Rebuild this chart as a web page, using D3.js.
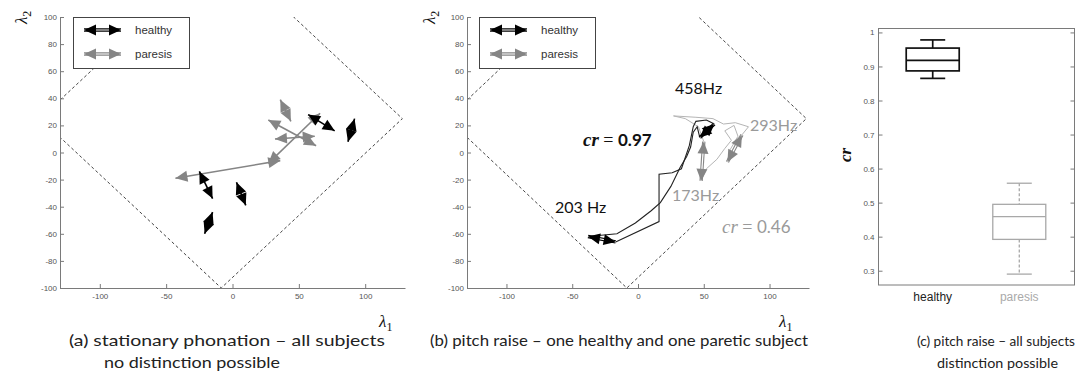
<!DOCTYPE html>
<html>
<head>
<meta charset="utf-8">
<script src="https://cdn.jsdelivr.net/npm/d3@7"></script>
<style>
  body { margin: 0; background: #fff; }
  svg { display: block; }
</style>
</head>
<body>
<div class="viz"></div>
<script>
// ---- data ----
const lamXTicks = [-100, -50, 0, 50, 100];
const lamYTicks = [-100, -80, -60, -40, -20, 0, 20, 40, 60, 80, 100];
// dashed boundary (rotated square) in lambda coords
const boundary = [[-145, 25], [-8.5, 150], [128, 25], [-8.5, -100], [-145, 25]];

// (a) one double arrow per subject: [x0, y0, x1, y1]
const healthyA = [[-25, -14, -15, -34], [3, -22, 10, -39], [-15, -44, -21, -60], [57, 28, 77, 16], [92, 25, 87, 8]];
const paresisA = [[-43, -19, 36, -6], [27, -8, 66, 29], [27, 24, 63, 5], [36, 39, 44, 23], [32, 10, 62, 12]];

// (b) first and last double arrow of the pitch raise, plus the tracks of both ends
const healthyStart = [-38, -62, -17, -66];
const healthyEnd = [47, 11, 58, 21];
const healthyTrack1 = [[-38, -62], [-16, -60], [-2, -52], [10, -43], [17, -37], [25, -25], [32, -11], [37, -3], [40, 4], [42, 15], [45, 19], [47, 11]];
const healthyTrack2 = [[-17, -66], [16, -51], [16, -16], [26, -15], [33, -12], [39, 5], [42, 19], [44, 23], [52, 24], [58, 21]];
const paresisStart = [48, -21, 50, 8];
const paresisEnd = [68, -7, 79, 13];
const paresisTrack1 = [[48, -21], [52, -12], [60, -5], [66, 3], [71, 9], [66, 16], [73, 20], [76, 12], [70, 2], [68, -7]];
const paresisTrack2 = [[50, 8], [46, 19], [36, 25], [27, 27], [44, 26], [57, 25], [65, 21], [74, 22], [84, 19], [79, 13]];

// (c) box plot of cr
const groups = ["healthy", "paresis"];
const crLow = [0.865, 0.29];
const crQ1 = [0.887, 0.392];
const crMed = [0.918, 0.459];
const crQ3 = [0.954, 0.495];
const crHigh = [0.978, 0.557];
const crTicks = [0.3, 0.4, 0.5, 0.6, 0.7, 0.8, 0.9, 1];

const black = "#000";
const gray = "#858585";
const light = "#b5b5b5";
const axisCol = "#7a7a7a";
const capFont = "Lato, 'Open Sans', sans-serif";

const svg = d3.select(".viz")
    .append("svg")
    .attr("width", 1083)
    .attr("height", 374);

const y = d3.scaleLinear().domain([-100, 100]).range([288, 17]);
const xa = d3.scaleLinear().domain([-130, 130]).range([60, 405]);
const xb = d3.scaleLinear().domain([-130, 130]).range([467, 809]);

function styleAxis(g) {
    g.select(".domain").attr("stroke", axisCol);
    g.selectAll(".tick line").attr("stroke", axisCol);
    g.selectAll(".tick text")
        .attr("fill", "#555")
        .attr("font-size", 8)
        .attr("font-family", "'Liberation Sans', Arial, sans-serif");
}

// arrow head with its tip at `tip`, pointing away from `from`
function head(g, tip, from, color) {
    const L = 12, W = 11;
    const dx = tip[0] - from[0], dy = tip[1] - from[1];
    const len = Math.hypot(dx, dy) || 1;
    const ux = dx / len, uy = dy / len;
    const bx = tip[0] - L * ux, by = tip[1] - L * uy;
    const px = -uy * W / 2, py = ux * W / 2;
    g.append("path")
        .attr("d", `M${tip[0]},${tip[1]}L${bx + px},${by + py}L${bx - px},${by - py}Z`)
        .attr("fill", color);
}

function doubleArrow(g, p0, p1, color, hollow) {
    g.append("line")
        .attr("x1", p0[0]).attr("y1", p0[1]).attr("x2", p1[0]).attr("y2", p1[1])
        .attr("stroke", color).attr("stroke-width", hollow ? 3.4 : 1.6);
    if (hollow) {
        g.append("line")
            .attr("x1", p0[0]).attr("y1", p0[1]).attr("x2", p1[0]).attr("y2", p1[1])
            .attr("stroke", "#fff").attr("stroke-width", 1.2);
    }
    head(g, p0, p1, color);
    head(g, p1, p0, color);
}

function legend(x0) {
    const g = svg.append("g");
    g.append("rect")
        .attr("x", x0 + 0.5).attr("y", 17.5).attr("width", 116).attr("height", 51)
        .attr("fill", "#fff").attr("stroke", "#444").attr("stroke-width", 1);
    const rows = [["healthy", black, 30], ["paresis", gray, 54]];
    rows.forEach(([name, col, yy]) => {
        doubleArrow(g, [x0 + 11, yy], [x0 + 48, yy], col, true);
        g.append("text")
            .attr("x", x0 + 62).attr("y", yy + 4)
            .attr("font-family", "'Liberation Sans', Arial, sans-serif")
            .attr("font-size", 11.5).attr("fill", "#333")
            .text(name);
    });
}

function lambdaPanel(x, id) {
    const g = svg.append("g");
    const [r0, r1] = x.range();
    svg.append("clipPath").attr("id", id)
        .append("rect").attr("x", r0).attr("y", 17).attr("width", r1 - r0).attr("height", 271);
    g.append("path")
        .datum(boundary)
        .attr("clip-path", `url(#${id})`)
        .attr("d", d3.line().x(d => x(d[0])).y(d => y(d[1])))
        .attr("fill", "none")
        .attr("stroke", "#444")
        .attr("stroke-width", 1)
        .attr("stroke-dasharray", "3,2.5");
    g.append("g")
        .attr("transform", `translate(${r0},0)`)
        .call(d3.axisLeft(y).tickValues(lamYTicks).tickFormat(d => String(d))
            .tickSize(-4).tickSizeOuter(0).tickPadding(3))
        .call(styleAxis);
    g.append("g")
        .attr("transform", "translate(0,288)")
        .call(d3.axisBottom(x).tickValues(lamXTicks).tickFormat(d => String(d))
            .tickSize(-4).tickSizeOuter(0).tickPadding(5))
        .call(styleAxis);
    return g;
}

function lambdaLabels(xl, yl) {
    const t1 = svg.append("text")
        .attr("x", xl).attr("y", 327)
        .attr("font-family", "'Liberation Serif', serif").attr("font-style", "italic")
        .attr("font-size", 17).attr("fill", "#111")
        .text("λ");
    t1.append("tspan").attr("dy", 4).attr("font-size", 12).attr("font-style", "normal").text("1");
    const t2 = svg.append("text")
        .attr("transform", `translate(${yl},24) rotate(-90)`)
        .attr("font-family", "'Liberation Serif', serif").attr("font-style", "italic")
        .attr("font-size", 17).attr("fill", "#111")
        .text("λ");
    t2.append("tspan").attr("dy", 4).attr("font-size", 12).attr("font-style", "normal").text("2");
}

// ---------- panel (a) ----------
const ga = lambdaPanel(xa, "clipA");
paresisA.forEach(d => doubleArrow(ga, [xa(d[0]), y(d[1])], [xa(d[2]), y(d[3])], gray, false));
healthyA.forEach(d => doubleArrow(ga, [xa(d[0]), y(d[1])], [xa(d[2]), y(d[3])], black, false));
legend(73);
lambdaLabels(379, 27);

// ---------- panel (b) ----------
const gb = lambdaPanel(xb, "clipB");
const lineB = d3.line().x(d => xb(d[0])).y(d => y(d[1]));
[paresisTrack1, paresisTrack2].forEach(t => {
    gb.append("path").datum(t).attr("d", lineB)
        .attr("fill", "none").attr("stroke", light).attr("stroke-width", 1);
});
[healthyTrack1, healthyTrack2].forEach(t => {
    gb.append("path").datum(t).attr("d", lineB)
        .attr("fill", "none").attr("stroke", "#222").attr("stroke-width", 1.1);
});
[paresisStart, paresisEnd].forEach(d =>
    doubleArrow(gb, [xb(d[0]), y(d[1])], [xb(d[2]), y(d[3])], gray, true));
[healthyStart, healthyEnd].forEach(d =>
    doubleArrow(gb, [xb(d[0]), y(d[1])], [xb(d[2]), y(d[3])], black, true));
legend(479);
lambdaLabels(779, 435);

function note(x, yy, txt, col, size) {
    svg.append("text")
        .attr("x", x).attr("y", yy)
        .attr("font-family", capFont).attr("font-size", size || 16)
        .attr("fill", col).text(txt);
}
note(675, 94, "458Hz", "#111");
note(555, 213, "203 Hz", "#111");
note(750, 131, "293Hz", "#9a9a9a");
note(672, 201, "173Hz", "#9a9a9a");

function crNote(x, yy, val, col, bold) {
    const t = svg.append("text").attr("x", x).attr("y", yy).attr("fill", col);
    t.append("tspan")
        .attr("font-family", "'Liberation Serif', serif").attr("font-style", "italic")
        .attr("font-weight", bold ? "bold" : "normal").attr("font-size", 19)
        .text("cr");
    t.append("tspan")
        .attr("font-family", "'Liberation Serif', serif").attr("font-size", 18)
        .text(" = ");
    t.append("tspan")
        .attr("font-family", capFont).attr("font-weight", bold ? "bold" : "normal")
        .attr("font-size", 17).text(val);
}
crNote(583, 146, "0.97", "#111", true);
crNote(722, 233, "0.46", "#9a9a9a", false);

// ---------- panel (c) ----------
const xc = d3.scalePoint().domain(groups).range([878, 1074]).padding(0.632);
const yc = d3.scaleLinear().domain([0.258, 1.013]).range([285, 28]);
const gc = svg.append("g");
gc.append("rect")
    .attr("x", 878.5).attr("y", 28.5).attr("width", 196).attr("height", 256.5)
    .attr("fill", "none").attr("stroke", axisCol);
gc.append("g")
    .attr("transform", "translate(878.5,0)")
    .call(d3.axisLeft(yc).tickValues(crTicks).tickFormat(d => String(d))
        .tickSize(-4).tickSizeOuter(0).tickPadding(4))
    .call(styleAxis)
    .call(g => g.select(".domain").remove());
gc.append("g")
    .attr("transform", "translate(1074.5,0)")
    .call(d3.axisRight(yc).tickValues(crTicks).tickFormat("")
        .tickSize(-4).tickSizeOuter(0))
    .call(styleAxis)
    .call(g => g.select(".domain").remove());

const boxW = 53, capW = 25;
groups.forEach((name, i) => {
    const cx = xc(name);
    const col = i === 0 ? "#111" : "#a8a8a8";
    const sw = i === 0 ? 1.7 : 1.3;
    const dash = i === 0 ? null : "3,2";
    gc.append("line").attr("x1", cx).attr("x2", cx)
        .attr("y1", yc(crHigh[i])).attr("y2", yc(crQ3[i]))
        .attr("stroke", col).attr("stroke-width", sw).attr("stroke-dasharray", dash);
    gc.append("line").attr("x1", cx).attr("x2", cx)
        .attr("y1", yc(crQ1[i])).attr("y2", yc(crLow[i]))
        .attr("stroke", col).attr("stroke-width", sw).attr("stroke-dasharray", dash);
    [crHigh[i], crLow[i]].forEach(v => {
        gc.append("line").attr("x1", cx - capW / 2).attr("x2", cx + capW / 2)
            .attr("y1", yc(v)).attr("y2", yc(v))
            .attr("stroke", col).attr("stroke-width", sw);
    });
    gc.append("rect")
        .attr("x", cx - boxW / 2).attr("y", yc(crQ3[i]))
        .attr("width", boxW).attr("height", yc(crQ1[i]) - yc(crQ3[i]))
        .attr("fill", "none").attr("stroke", col).attr("stroke-width", sw);
    gc.append("line").attr("x1", cx - boxW / 2).attr("x2", cx + boxW / 2)
        .attr("y1", yc(crMed[i])).attr("y2", yc(crMed[i]))
        .attr("stroke", col).attr("stroke-width", sw);
    gc.append("text")
        .attr("x", cx).attr("y", 301).attr("text-anchor", "middle")
        .attr("font-family", "'Liberation Sans', Arial, sans-serif").attr("font-size", 12)
        .attr("fill", i === 0 ? "#222" : "#aaa")
        .text(name);
});
svg.append("text")
    .attr("transform", "translate(851,155) rotate(-90)")
    .attr("text-anchor", "middle")
    .attr("font-family", "'Liberation Serif', serif").attr("font-style", "italic")
    .attr("font-weight", "bold").attr("font-size", 17).attr("fill", "#111")
    .text("cr");

// ---------- captions ----------
function caption(x, yy, txt, w, size) {
    svg.append("text")
        .attr("x", x).attr("y", yy)
        .attr("font-family", capFont).attr("font-size", size || 15).attr("fill", "#222")
        .attr("textLength", w).attr("lengthAdjust", "spacingAndGlyphs")
        .text(txt);
}
caption(69, 346, "(a)  stationary phonation – all subjects", 316);
caption(104, 368, "no distinction possible", 176);
caption(430, 346, "(b) pitch raise – one healthy and one paretic subject", 378);
caption(917, 346, "(c) pitch raise – all subjects", 158, 14);
caption(937, 368, "distinction possible", 121, 14);
</script>
</body>
</html>
